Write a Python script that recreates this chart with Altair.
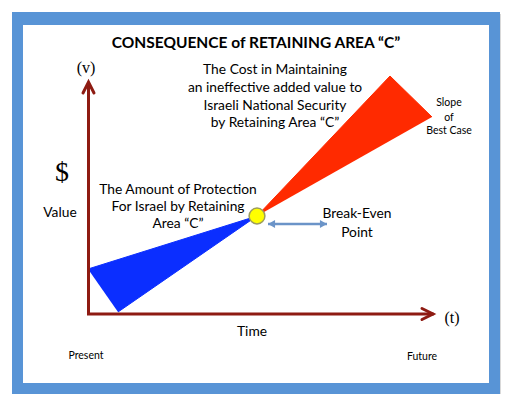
import altair as alt
import pandas as pd

# ---- coordinate frame of the diagram (in picture units) ----
X_DOMAIN = [8, 501]
Y_DOMAIN = [8, 394]

# frame and panel corners
frame_x = [12, 500]
frame_y = [12, 394]
panel_x = [23, 489]
panel_y = [25, 383]

# axes (L-shaped polyline) and chevron arrow heads
axis_part = ["axes", "axes", "axes", "vhead", "vhead", "vhead", "hhead", "hhead", "hhead"]
axis_x = [88.5, 88.5, 433, 83, 88.5, 94, 422, 433, 422]
axis_y = [84, 314, 314, 93, 82, 93, 308.5, 314, 319.5]
axis_ord = [0, 1, 2, 0, 1, 2, 0, 1, 2]

# wedges
blue_x = [88, 257, 118]
blue_y = [269, 216, 312]
red_x = [257, 390, 432]
red_y = [216, 76, 117]

# break-even point
be_x = [257]
be_y = [216]

# double-headed arrow
arr_x = [268, 327]
arr_y = [224, 224]
arr_shape = ["M0,0L1,-0.55L1,0.55Z", "M0,0L-1,-0.55L-1,0.55Z"]

# texts
title_text = ["CONSEQUENCE of RETAINING AREA \u201cC\u201d"]
title_x = [256]
title_y = [43]

cost_text = ["The Cost in Maintaining", "an ineffective added value to",
             "Israeli National Security", "by Retaining Area \u201cC\u201d"]
cost_x = [275, 275, 275, 275]
cost_y = [70, 87.5, 105.5, 123]

prot_text = ["The Amount of Protection", "For Israel by Retaining", "Area \u201cC\u201d"]
prot_x = [178, 178, 178]
prot_y = [190, 207, 224]

be_text = ["Break-Even", "Point"]
be_tx = [357, 357]
be_ty = [214, 233]

slope_text = ["Slope", "of", "Best Case"]
slope_x = [449, 449, 449]
slope_y = [103, 118, 131]

misc_text = ["Value", "Time"]
misc_x = [60, 252]
misc_y = [213, 332]

small_text = ["Present", "Future"]
small_x = [86, 422]
small_y = [356, 357]

var_text = ["(v)", "(t)"]
var_x = [86, 452]
var_y = [68, 318]

dollar_text = ["$"]
dollar_x = [62]
dollar_y = [173]

# ---- helpers ----
XS = alt.Scale(domain=X_DOMAIN, nice=False, zero=False)
YS = alt.Scale(domain=Y_DOMAIN, nice=False, zero=False, reverse=True)


def X(f="x"):
    return alt.X(f + ":Q", scale=XS, axis=None)


def Y(f="y"):
    return alt.Y(f + ":Q", scale=YS, axis=None)


FONT = "Lato"

frame = alt.Chart(pd.DataFrame({"x": [frame_x[0]], "x2": [frame_x[1]],
                                "y": [frame_y[0]], "y2": [frame_y[1]]})).mark_rect(
    color="#5894d6").encode(x=X(), x2="x2:Q", y=Y(), y2="y2:Q")

shadow = alt.Chart(pd.DataFrame({"x": [frame_x[0] + 2], "x2": [frame_x[1] + 1],
                                 "y": [frame_y[0] + 2], "y2": [frame_y[1]]})).mark_rect(
    color="#d9d9d9").encode(x=X(), x2="x2:Q", y=Y(), y2="y2:Q")

panel = alt.Chart(pd.DataFrame({"x": [panel_x[0]], "x2": [panel_x[1]],
                                "y": [panel_y[0]], "y2": [panel_y[1]]})).mark_rect(
    color="white").encode(x=X(), x2="x2:Q", y=Y(), y2="y2:Q")

axes = alt.Chart(pd.DataFrame({"part": axis_part, "x": axis_x, "y": axis_y,
                               "o": axis_ord})).mark_line(
    color="#8e1b12", strokeWidth=3, strokeCap="round", strokeJoin="miter").encode(
    x=X(), y=Y(), detail="part:N", order="o:Q")

blue = alt.Chart(pd.DataFrame({"x": blue_x, "y": blue_y, "o": [0, 1, 2]})).mark_line(
    fill="#0b2eff", stroke="#0b2eff", strokeWidth=1, filled=True).encode(
    x=X(), y=Y(), order="o:Q")

red = alt.Chart(pd.DataFrame({"x": red_x, "y": red_y, "o": [0, 1, 2]})).mark_line(
    fill="#ff2a00", stroke="#ff2a00", strokeWidth=1, filled=True).encode(
    x=X(), y=Y(), order="o:Q")

arrow_line = alt.Chart(pd.DataFrame({"x": arr_x, "y": arr_y})).mark_line(
    color="#6b94c8", strokeWidth=2.5).encode(x=X(), y=Y())

arrow_heads = alt.Chart(pd.DataFrame({"x": arr_x, "y": arr_y, "s": arr_shape})).mark_point(
    filled=True, color="#6b94c8", opacity=1, size=200).encode(
    x=X(), y=Y(), shape=alt.Shape("s:N", scale=None, legend=None))

be_point = alt.Chart(pd.DataFrame({"x": be_x, "y": be_y})).mark_point(
    shape="circle", filled=True, fill="#ffff00", stroke="#9c9c5e", strokeWidth=1.5,
    opacity=1, size=250).encode(x=X(), y=Y())


def texts(t, xs, ys, size, weight="normal", font=FONT, color="#000000"):
    return alt.Chart(pd.DataFrame({"t": t, "x": xs, "y": ys})).mark_text(
        font=font, fontSize=size, fontWeight=weight, color=color,
        align="center", baseline="middle").encode(x=X(), y=Y(), text="t:N")


layers = [
    shadow, frame, panel, blue, red, axes, arrow_line, arrow_heads, be_point,
    texts(title_text, title_x, title_y, 15.5, "bold"),
    texts(cost_text, cost_x, cost_y, 13.8),
    texts(prot_text, prot_x, prot_y, 13.8),
    texts(be_text, be_tx, be_ty, 13.8),
    texts(slope_text, slope_x, slope_y, 10.5),
    texts(misc_text, misc_x, misc_y, 13.8),
    texts(small_text, small_x, small_y, 10.5),
    texts(var_text, var_x, var_y, 16, font="Liberation Serif"),
    texts(dollar_text, dollar_x, dollar_y, 28, font="Liberation Serif"),
]

chart = alt.layer(*layers).properties(
    width=X_DOMAIN[1] - X_DOMAIN[0],
    height=Y_DOMAIN[1] - Y_DOMAIN[0],
    padding=0,
    autosize="none",
    background="white",
).configure_view(stroke=None)

chart.save("out.html", embed_options={"renderer": "svg", "actions": False})
